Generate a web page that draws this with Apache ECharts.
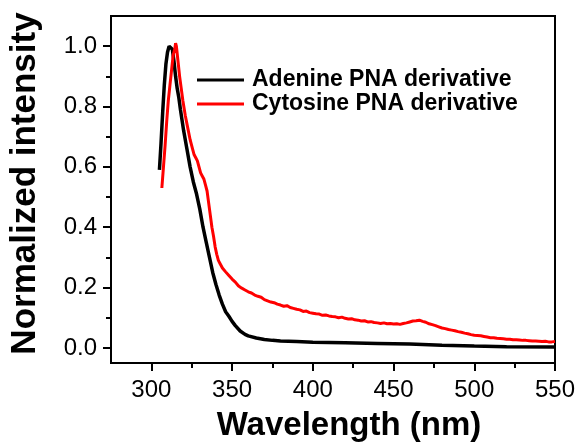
<!DOCTYPE html>
<html>
<head>
<meta charset="utf-8">
<script src="https://cdn.jsdelivr.net/npm/echarts@6/dist/echarts.min.js"></script>
<style>html,body{margin:0;padding:0;background:#fff}#c{width:582px;height:448px}</style>
</head>
<body>
<div id="c"></div>
<script>
// ---- data ----
const seriesNames = ['Adenine PNA derivative', 'Cytosine PNA derivative'];
const adenineWl = [305,306,307,308,309,310,311,312,313,314,315,316,317,318,320,322,324,326,328,330,332,334,336,338,340,342,344,346,348,350,352,355,358,360,365,370,375,380,390,400,420,440,460,480,500,520,550];
const adenineVal = [0.59,0.68,0.78,0.87,0.94,0.98,1.0,1.0,0.99,0.95,0.90,0.86,0.83,0.79,0.72,0.66,0.60,0.55,0.51,0.46,0.40,0.35,0.30,0.25,0.21,0.175,0.145,0.12,0.105,0.088,0.074,0.056,0.045,0.040,0.033,0.028,0.025,0.023,0.021,0.019,0.017,0.015,0.013,0.009,0.006,0.004,0.003];
const cytosineWl = [306.5,307.5,308.5,309.5,310.5,311.5,312.5,313.5,314.5,315,315.5,316.5,317.5,318.5,319.5,321,322.5,324,325.5,326.5,327.5,328.5,329.5,330.5,331.5,332.5,333.5,334.5,335.5,336.5,337.5,338.5,339.5,340.5,341.5,342.5,344,346,348,350,352,354,356,358,360,362,364,366,368,370,372,374,376,378,380,382,384,386,388,390,392,394,396,398,400,402,404,406,408,410,412,414,416,418,420,422,424,426,428,430,432,434,436,438,440,442,444,446,448,450,452,454,456,458,460,462,464,466,468,470,472,474,476,478,480,482,484,486,488,490,492,494,496,498,500,502,504,506,508,510,512,514,516,518,520,522,524,526,528,530,532,534,536,538,540,542,544,546,548,550];
const cytosineVal = [0.53,0.60,0.67,0.75,0.82,0.87,0.92,0.97,0.99,1.01,1.0,0.95,0.90,0.86,0.82,0.77,0.73,0.69,0.66,0.64,0.63,0.62,0.60,0.58,0.57,0.56,0.54,0.52,0.48,0.44,0.40,0.37,0.335,0.31,0.29,0.28,0.265,0.252,0.24,0.228,0.218,0.205,0.198,0.192,0.186,0.182,0.175,0.171,0.168,0.160,0.156,0.152,0.150,0.145,0.142,0.138,0.140,0.134,0.131,0.128,0.126,0.121,0.122,0.117,0.115,0.113,0.112,0.108,0.109,0.106,0.104,0.103,0.100,0.102,0.098,0.096,0.097,0.093,0.092,0.089,0.090,0.086,0.087,0.084,0.083,0.081,0.083,0.080,0.081,0.079,0.080,0.078,0.081,0.083,0.086,0.089,0.090,0.092,0.088,0.085,0.080,0.077,0.074,0.070,0.066,0.064,0.061,0.059,0.057,0.054,0.052,0.049,0.047,0.044,0.042,0.041,0.040,0.038,0.036,0.034,0.034,0.032,0.031,0.030,0.029,0.029,0.027,0.027,0.026,0.025,0.025,0.024,0.023,0.023,0.022,0.021,0.022,0.020,0.020,0.021];
const xMin = 275, xMax = 550, yMin = -0.05, yMax = 1.1;
const xMajorTicks = [300,350,400,450,500,550];
const xMinorTicks = [325,375,425,475,525];
const yMajorTicks = [0,0.2,0.4,0.6,0.8,1.0];
const yMinorTicks = [0.1,0.3,0.5,0.7,0.9];
const xTitle = 'Wavelength (nm)';
const yTitle = 'Normalized intensity';

// ---- chart ----
const chart = echarts.init(document.getElementById('c'), null, {renderer: 'canvas'});
const FONT = '"Liberation Sans", Arial, sans-serif';
const AX = () => ({onZero: false, lineStyle: {color: '#000', width: 2}});
const xBase = () => ({type: 'value', min: xMin, max: xMax, splitLine: {show: false}});
const yBase = () => ({type: 'value', min: yMin, max: yMax, splitLine: {show: false}});
chart.setOption({
  animation: false,
  grid: {left: 105, right: 27, top: 16, bottom: 85, show: true, borderColor: '#000', borderWidth: 2},
  legend: {
    orient: 'vertical', left: 192, top: 63, itemWidth: 47, itemHeight: 14, itemGap: 0,
    data: seriesNames.map((n, i) => ({name: n, icon: 'path://M0,5.5L47,5.5L47,8.5L0,8.5Z', itemStyle: {color: i ? '#ff0000' : '#000'}})),
    textStyle: {fontFamily: FONT, fontWeight: 'bold', fontSize: 23, color: '#000', lineHeight: 24, padding: [0, 0, 0, 3]}
  },
  xAxis: [
    Object.assign(xBase(), {
      position: 'bottom', axisLine: AX(),
      axisTick: {show: true, inside: false, length: 8, lineStyle: {width: 2, color: '#000'}, customValues: xMajorTicks},
      axisLabel: {customValues: xMajorTicks, fontFamily: FONT, fontSize: 24, color: '#000', margin: 15},
      name: xTitle, nameLocation: 'middle', nameGap: 46,
      nameTextStyle: {fontFamily: FONT, fontWeight: 'bold', fontSize: 33, color: '#000', padding: [0, 0, 0, 32]}
    }),
    Object.assign(xBase(), {
      position: 'bottom', axisLine: {show: false, onZero: false},
      axisTick: {show: true, length: 5, lineStyle: {width: 2, color: '#000'}, customValues: xMinorTicks},
      axisLabel: {show: false}
    })
  ],
  yAxis: [
    Object.assign(yBase(), {
      position: 'left', axisLine: AX(),
      axisTick: {show: true, length: 8, lineStyle: {width: 2, color: '#000'}, customValues: yMajorTicks},
      axisLabel: {customValues: yMajorTicks, fontFamily: FONT, fontSize: 24, color: '#000', margin: 14,
        formatter: v => Number(v).toFixed(1)},
      name: yTitle, nameLocation: 'middle', nameGap: 68,
      nameTextStyle: {fontFamily: FONT, fontWeight: 'bold', fontSize: 35, color: '#000', padding: [0, 0, 0, 12]}
    }),
    Object.assign(yBase(), {
      position: 'left', axisLine: {show: false, onZero: false},
      axisTick: {show: true, length: 5, lineStyle: {width: 2, color: '#000'}, customValues: yMinorTicks},
      axisLabel: {show: false}
    })
  ],
  series: [
    {
      name: seriesNames[0], type: 'line', xAxisIndex: 0, yAxisIndex: 0, symbol: 'none', smooth: false,
      lineStyle: {color: '#000', width: 3.5}, itemStyle: {color: '#000'}, z: 3,
      data: adenineWl.map((w, i) => [w, adenineVal[i]])
    },
    {
      name: seriesNames[1], type: 'line', xAxisIndex: 0, yAxisIndex: 0, symbol: 'none', smooth: false,
      lineStyle: {color: '#ff0000', width: 3}, itemStyle: {color: '#ff0000'}, z: 4,
      data: cytosineWl.map((w, i) => [w, cytosineVal[i]])
    }
  ]
});
// top frame edge, placed through the chart's own coordinate conversion
const pA = chart.convertToPixel({xAxisIndex: 0, yAxisIndex: 0}, [xMin, yMax]);
const pB = chart.convertToPixel({xAxisIndex: 0, yAxisIndex: 0}, [xMax, yMax]);
chart.setOption({
  graphic: [{
    type: 'line', z: 100, silent: true,
    shape: {x1: pA[0], y1: pA[1], x2: pB[0], y2: pB[1]},
    style: {stroke: '#000', lineWidth: 2}
  }]
});
</script>
</body>
</html>
